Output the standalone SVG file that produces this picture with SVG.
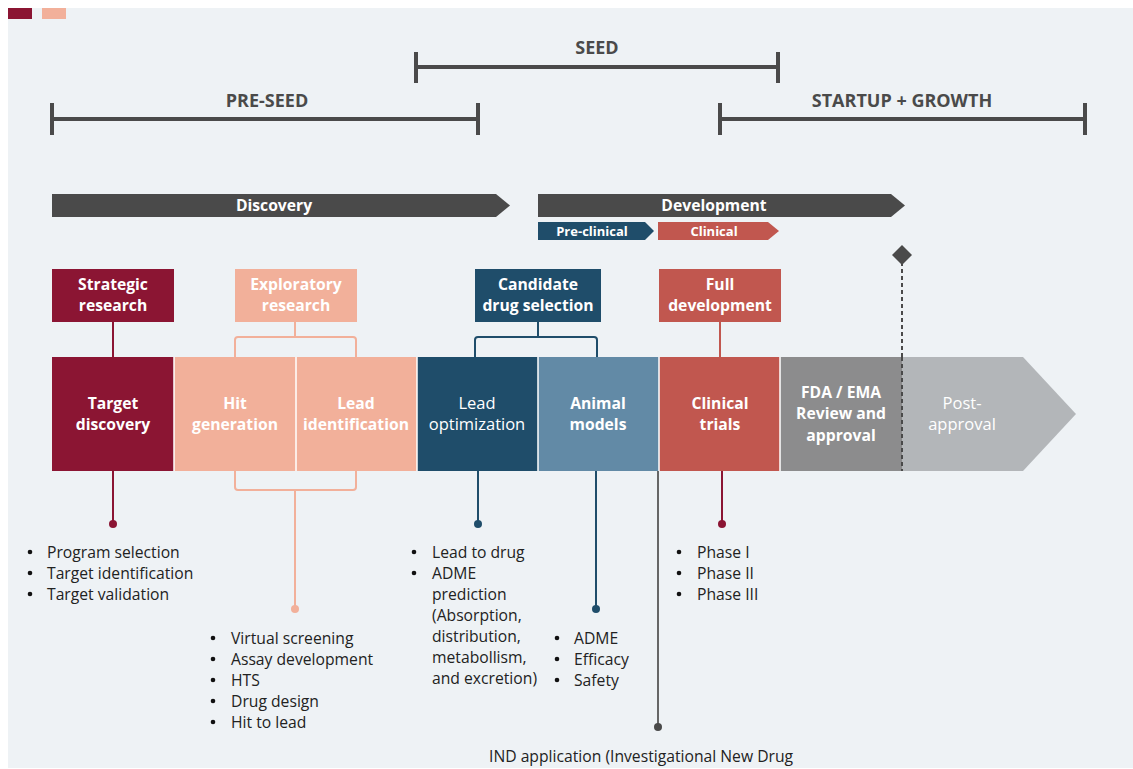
<svg xmlns="http://www.w3.org/2000/svg" width="1133" height="769" viewBox="0 0 1133 769">
<style>
.hdr{font-family:"Open Sans","Liberation Sans",sans-serif;font-weight:700;font-size:18px;fill:#4a4a4a;text-anchor:middle}
.bar{fill:none;stroke:#4a4a4a;stroke-width:4}
.lbl{font-family:"Open Sans","Liberation Sans",sans-serif;font-weight:700;font-size:15.7px;fill:#fff;text-anchor:middle}
.lblr{font-family:"Open Sans","Liberation Sans",sans-serif;font-weight:400;font-size:16.5px;fill:#fff;text-anchor:middle}
.sm{font-family:"Open Sans","Liberation Sans",sans-serif;font-weight:700;font-size:13px;fill:#fff;text-anchor:middle}
.li{font-family:"Open Sans","Liberation Sans",sans-serif;font-weight:400;font-size:15.7px;fill:#222}
.sep{stroke:#fff;stroke-width:1.5}
.con{fill:none;stroke-width:2}
</style>
<rect x="0" y="0" width="1133" height="769" fill="#ffffff"/>
<rect x="8" y="8" width="1125" height="760" fill="#eef2f5"/>
<rect x="8" y="8" width="24" height="11" fill="#8b1533"/>
<rect x="42" y="8" width="24" height="11" fill="#f2b09a"/>

<g id="phase-brackets">
<path class="bar" d="M52,103 V135 M52,119 H478 M478,103 V135"/>
<text class="hdr" x="267" y="107">PRE-SEED</text>
<path class="bar" d="M416,52 V83 M416,67 H778 M778,52 V83"/>
<text class="hdr" x="597" y="54">SEED</text>
<path class="bar" d="M720,103 V135 M720,119 H1085 M1085,103 V135"/>
<text class="hdr" x="902" y="107">STARTUP + GROWTH</text>
</g>

<g id="stage-arrows">
<polygon points="52,194 496,194 510,205.5 496,217 52,217" fill="#4a4a4a"/>
<text class="lbl" x="274" y="211">Discovery</text>
<polygon points="538,194 891,194 905,205.5 891,217 538,217" fill="#4a4a4a"/>
<text class="lbl" x="714" y="211">Development</text>
<polygon points="538,222 645,222 654,231 645,240 538,240" fill="#1f4d6a"/>
<text class="sm" x="592" y="235.5">Pre-clinical</text>
<polygon points="658,222 768,222 779,231 768,240 658,240" fill="#c1574f"/>
<text class="sm" x="714" y="235.5">Clinical</text>
</g>

<g id="connectors">
<path class="con" stroke="#8b1533" d="M113,322 V357"/>
<path class="con" stroke="#f2b09a" d="M295,322 V337 M235,357 V340 Q235,337 238,337 H353 Q356,337 356,340 V357"/>
<path class="con" stroke="#1f4d6a" d="M538,322 V337 M475,357 V340 Q475,337 478,337 H594 Q597,337 597,340 V357"/>
<path class="con" stroke="#c1574f" d="M720,322 V357"/>
<path d="M902,262 V471" stroke="#4a4a4a" stroke-width="2" stroke-dasharray="4 3" fill="none"/>
<path class="con" stroke="#8b1533" d="M113,471 V524"/>
<circle cx="113" cy="524" r="4" fill="#8b1533"/>
<path class="con" stroke="#f2b09a" d="M235,471 V487 Q235,490 238,490 H353 Q356,490 356,487 V471 M295,490 V609"/>
<circle cx="295" cy="609" r="4" fill="#f2b09a"/>
<path class="con" stroke="#1f4d6a" d="M478,471 V524"/>
<circle cx="478" cy="524" r="4" fill="#1f4d6a"/>
<path class="con" stroke="#1f4d6a" d="M596,471 V609"/>
<circle cx="596" cy="609" r="4" fill="#1f4d6a"/>
<path class="con" stroke="#666666" d="M658,471 V727"/>
<circle cx="658" cy="727" r="4" fill="#4a4a4a"/>
<path class="con" stroke="#8b1533" d="M722,471 V524"/>
<circle cx="722" cy="524" r="4" fill="#8b1533"/>
</g>

<g id="milestone">
<polygon points="902,245 912,255 902,265 892,255" fill="#4a4a4a"/>
</g>

<g id="strategic-research">
<rect x="52" y="269" width="122" height="53" fill="#8b1533"/>
<text class="lbl" x="113" y="290">Strategic</text>
<text class="lbl" x="113" y="311">research</text>
</g>
<g id="exploratory-research">
<rect x="235" y="269" width="122" height="53" fill="#f2b09a"/>
<text class="lbl" x="296" y="290">Exploratory</text>
<text class="lbl" x="296" y="311">research</text>
</g>
<g id="candidate-drug-selection">
<rect x="475" y="269" width="126" height="53" fill="#1f4d6a"/>
<text class="lbl" x="538" y="290">Candidate</text>
<text class="lbl" x="538" y="311">drug selection</text>
</g>
<g id="full-development">
<rect x="659" y="269" width="122" height="53" fill="#c1574f"/>
<text class="lbl" x="720" y="290">Full</text>
<text class="lbl" x="720" y="311">development</text>
</g>

<g id="target-discovery">
<rect x="52" y="357" width="122" height="114" fill="#8b1533"/>
<text class="lbl" x="113" y="409">Target</text>
<text class="lbl" x="113" y="430">discovery</text>
</g>
<g id="hit-generation">
<rect x="174" y="357" width="122" height="114" fill="#f2b09a"/>
<text class="lbl" x="235" y="409">Hit</text>
<text class="lbl" x="235" y="430">generation</text>
</g>
<g id="lead-identification">
<rect x="296" y="357" width="121" height="114" fill="#f2b09a"/>
<text class="lbl" x="356" y="409">Lead</text>
<text class="lbl" x="356" y="430">identification</text>
</g>
<g id="lead-optimization">
<rect x="417" y="357" width="121" height="114" fill="#1f4d6a"/>
<text class="lblr" x="477" y="409">Lead</text>
<text class="lblr" x="477" y="430">optimization</text>
</g>
<g id="animal-models">
<rect x="538" y="357" width="121" height="114" fill="#628aa6"/>
<text class="lbl" x="598" y="409">Animal</text>
<text class="lbl" x="598" y="430">models</text>
</g>
<g id="clinical-trials">
<rect x="659" y="357" width="121" height="114" fill="#c1574f"/>
<text class="lbl" x="720" y="409">Clinical</text>
<text class="lbl" x="720" y="430">trials</text>
</g>
<g id="fda-ema">
<rect x="780" y="357" width="122" height="114" fill="#8c8c8d"/>
<text class="lbl" x="841" y="398">FDA / EMA</text>
<text class="lbl" x="841" y="419">Review and</text>
<text class="lbl" x="841" y="441">approval</text>
</g>
<g id="post-approval">
<polygon points="902,357 1023,357 1076,414 1023,471 902,471" fill="#b3b6b9"/>
<text class="lblr" x="962" y="409" fill="#f4f4f4">Post-</text>
<text class="lblr" x="962" y="430" fill="#f4f4f4">approval</text>
</g>
<g id="separators">
<path class="sep" d="M174,357 V471 M296,357 V471 M417,357 V471 M538,357 V471 M659,357 V471 M780,357 V471"/>
</g>
<path d="M902,357 V471" stroke="#4a4a4a" stroke-width="2" stroke-dasharray="4 3" fill="none"/>

<g id="list-target">
<circle cx="30" cy="552" r="2.3" fill="#111"/><text class="li" x="47" y="557.5">Program selection</text>
<circle cx="30" cy="573" r="2.3" fill="#111"/><text class="li" x="47" y="578.5">Target identification</text>
<circle cx="30" cy="594" r="2.3" fill="#111"/><text class="li" x="47" y="599.5">Target validation</text>
</g>
<g id="list-hit">
<circle cx="213" cy="638" r="2.3" fill="#111"/><text class="li" x="231" y="643.5">Virtual screening</text>
<circle cx="213" cy="659" r="2.3" fill="#111"/><text class="li" x="231" y="664.5">Assay development</text>
<circle cx="213" cy="680" r="2.3" fill="#111"/><text class="li" x="231" y="685.5">HTS</text>
<circle cx="213" cy="701" r="2.3" fill="#111"/><text class="li" x="231" y="706.5">Drug design</text>
<circle cx="213" cy="722" r="2.3" fill="#111"/><text class="li" x="231" y="727.5">Hit to lead</text>
</g>
<g id="list-lead-opt">
<circle cx="414" cy="552" r="2.3" fill="#111"/><text class="li" x="432" y="557.5">Lead to drug</text>
<circle cx="414" cy="573" r="2.3" fill="#111"/><text class="li" x="432" y="578.5">ADME</text>
<text class="li" x="432" y="599.5">prediction</text>
<text class="li" x="432" y="620.5">(Absorption,</text>
<text class="li" x="432" y="641.5">distribution,</text>
<text class="li" x="432" y="662.5">metabollism,</text>
<text class="li" x="432" y="683.5">and excretion)</text>
</g>
<g id="list-animal">
<circle cx="557" cy="638" r="2.3" fill="#111"/><text class="li" x="574" y="643.5">ADME</text>
<circle cx="557" cy="659" r="2.3" fill="#111"/><text class="li" x="574" y="664.5">Efficacy</text>
<circle cx="557" cy="680" r="2.3" fill="#111"/><text class="li" x="574" y="685.5">Safety</text>
</g>
<g id="list-clinical">
<circle cx="679" cy="552" r="2.3" fill="#111"/><text class="li" x="697" y="557.5">Phase I</text>
<circle cx="679" cy="573" r="2.3" fill="#111"/><text class="li" x="697" y="578.5">Phase II</text>
<circle cx="679" cy="594" r="2.3" fill="#111"/><text class="li" x="697" y="599.5">Phase III</text>
</g>
<g id="ind-label">
<text class="li" x="489" y="761.5">IND application (Investigational New Drug</text>
</g>
</svg>
